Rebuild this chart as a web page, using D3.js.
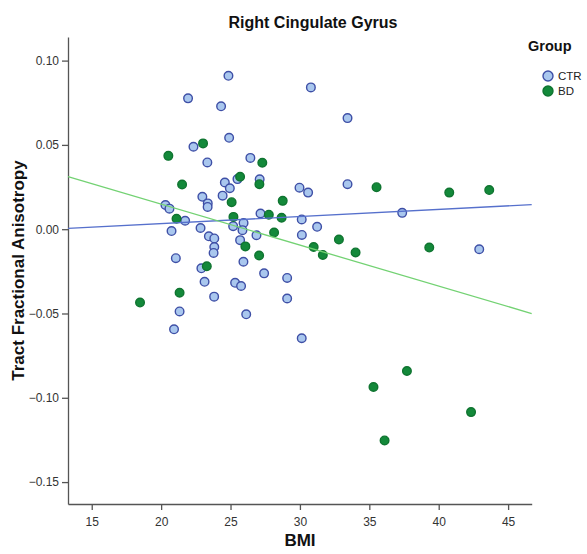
<!DOCTYPE html>
<html>
<head>
<meta charset="utf-8">
<script src="https://cdn.jsdelivr.net/npm/d3@7"></script>
<style>
  body { margin: 0; background: #fff; }
  svg { font-family: Arial, "Liberation Sans", sans-serif; }
</style>
</head>
<body>
<div id="chart"></div>
<script>
// BMI / fractional anisotropy
const ctrBMI = [24.85, 21.94, 24.32, 24.90, 22.33, 23.33, 26.43, 25.50, 24.59, 24.95, 27.10, 22.97, 24.43, 23.36, 23.35,
  20.31, 20.60, 21.73, 20.75, 22.84, 23.44, 23.83, 23.83, 23.78, 25.94, 25.19, 25.86, 26.87, 25.69, 27.16,
  30.13, 31.24, 30.14, 29.97, 30.59, 33.43, 33.43, 30.79, 37.37, 42.92, 21.06, 25.93, 22.90, 23.13, 23.82,
  25.33, 25.76, 21.33, 20.93, 26.13, 27.42, 29.08, 29.08, 30.13];
const ctrFA = [0.0910, 0.0776, 0.0729, 0.0542, 0.0489, 0.0396, 0.0423, 0.0297, 0.0277, 0.0243, 0.0296, 0.0192, 0.0199, 0.0153, 0.0132,
  0.0143, 0.0122, 0.0050, -0.0011, 0.0007, -0.0042, -0.0055, -0.0106, -0.0141, 0.0037, 0.0018, -0.0006, -0.0036, -0.0065, 0.0093,
  0.0058, 0.0014, -0.0034, 0.0246, 0.0217, 0.0267, 0.0659, 0.0841, 0.0097, -0.0119, -0.0172, -0.0193, -0.0232, -0.0312, -0.0400,
  -0.0318, -0.0337, -0.0488, -0.0594, -0.0505, -0.0262, -0.0289, -0.0411, -0.0647];

const bdBMI = [23.02, 20.52, 21.51, 25.69, 27.29, 27.08, 25.08, 28.76, 35.52, 40.76, 43.64, 21.11, 25.21, 27.76, 28.68,
  28.14, 26.07, 27.06, 30.99, 31.65, 32.81, 34.01, 39.32, 23.29, 21.33, 18.48, 37.71, 35.30, 42.33, 36.10];
const bdFA = [0.0509, 0.0435, 0.0265, 0.0311, 0.0394, 0.0267, 0.0160, 0.0168, 0.0249, 0.0217, 0.0232, 0.0062, 0.0073, 0.0086, 0.0068,
  -0.0020, -0.0102, -0.0156, -0.0106, -0.0153, -0.0061, -0.0138, -0.0109, -0.0220, -0.0377, -0.0435, -0.0841, -0.0936, -0.1085, -0.1253];

const xTicks = [15, 20, 25, 30, 35, 40, 45];
const yTicks = [0.10, 0.05, 0.00, -0.05, -0.10, -0.15];
const groups = ["CTR", "BD"];

const W = 587, H = 554;
const plotLeft = 68, plotRight = 531.7, plotTop = 37, plotBottom = 504;

const svg = d3.select("#chart").append("svg")
  .attr("width", W)
  .attr("height", H);

const x = d3.scaleLinear().domain([13.29, 46.7]).range([plotLeft, plotRight]);
const y = d3.scaleLinear().domain([-0.163, 0.114]).range([plotBottom, plotTop]);

// fit line (least squares) over the whole x range
function fit(xs, ys) {
  const mx = d3.mean(xs), my = d3.mean(ys);
  let sxy = 0, sxx = 0;
  xs.forEach((v, i) => { sxy += (v - mx) * (ys[i] - my); sxx += (v - mx) * (v - mx); });
  const b = sxy / sxx;
  return [x.domain()[0], x.domain()[1]].map(v => ({bmi: v, fa: my + b * (v - mx)}));
}

const series = [
  {name: groups[0], pts: ctrBMI.map((v, i) => ({bmi: v, fa: ctrFA[i]})), fill: "#a9c7ee", stroke: "#3e4fa6", line: "#5670cc"},
  {name: groups[1], pts: bdBMI.map((v, i) => ({bmi: v, fa: bdFA[i]})), fill: "#13893a", stroke: "#0f7430", line: "#73d273"}
];
series[0].fit = fit(ctrBMI, ctrFA);
series[1].fit = fit(bdBMI, bdFA);

// axes
const xAxis = svg.append("g")
  .attr("transform", `translate(0,${plotBottom})`)
  .call(d3.axisBottom(x).tickValues(xTicks).tickSize(6).tickSizeOuter(0).tickFormat(d3.format("d")));
const yAxis = svg.append("g")
  .attr("transform", `translate(${plotLeft},0)`)
  .call(d3.axisLeft(y).tickValues(yTicks).tickSize(6).tickSizeOuter(0).tickFormat(d3.format(".2f")));

[xAxis, yAxis].forEach(a => {
  a.select(".domain").attr("stroke", "#555").attr("stroke-width", 1.3);
  a.selectAll(".tick line").attr("stroke", "#555").attr("stroke-width", 1.3);
  a.selectAll(".tick text").attr("fill", "#333").style("font-size", "12px");
});
xAxis.selectAll(".tick text").attr("dy", "1.1em");

// points
series.forEach(s => {
  svg.append("g").selectAll("circle")
    .data(s.pts)
    .join("circle")
      .attr("cx", d => x(d.bmi))
      .attr("cy", d => y(d.fa))
      .attr("r", 4.3)
      .attr("fill", s.fill)
      .attr("stroke", s.stroke)
      .attr("stroke-width", 1.4);
});

// fit lines
const line = d3.line().x(d => x(d.bmi)).y(d => y(d.fa));
series.forEach(s => {
  svg.append("path")
    .attr("d", line(s.fit))
    .attr("fill", "none")
    .attr("stroke", s.line)
    .attr("stroke-width", 1.3);
});

// title and labels
svg.append("text")
  .attr("x", 313).attr("y", 28)
  .attr("text-anchor", "middle")
  .style("font-size", "16px").style("font-weight", "bold")
  .attr("fill", "#111")
  .text("Right Cingulate Gyrus");

svg.append("text")
  .attr("x", 300).attr("y", 546)
  .attr("text-anchor", "middle")
  .style("font-size", "17px").style("font-weight", "bold")
  .attr("fill", "#111")
  .text("BMI");

svg.append("text")
  .attr("transform", `translate(24,${(plotTop + plotBottom) / 2}) rotate(-90)`)
  .attr("text-anchor", "middle")
  .style("font-size", "17px").style("font-weight", "bold")
  .attr("fill", "#111")
  .text("Tract Fractional Anisotropy");

// legend
const legend = svg.append("g").attr("transform", "translate(541,0)");
legend.append("text")
  .attr("x", -13).attr("y", 51)
  .style("font-size", "14.5px").style("font-weight", "bold")
  .attr("fill", "#111")
  .text("Group");
const items = legend.selectAll("g.item")
  .data(series)
  .join("g")
    .attr("class", "item")
    .attr("transform", (d, i) => `translate(0,${76 + i * 15})`);
items.append("circle")
  .attr("cx", 7).attr("r", 5)
  .attr("fill", d => d.fill)
  .attr("stroke", d => d.stroke)
  .attr("stroke-width", 1.4);
items.append("text")
  .attr("x", 17).attr("dy", "0.35em")
  .style("font-size", "11.5px")
  .attr("fill", "#222")
  .text(d => d.name);
</script>
</body>
</html>
